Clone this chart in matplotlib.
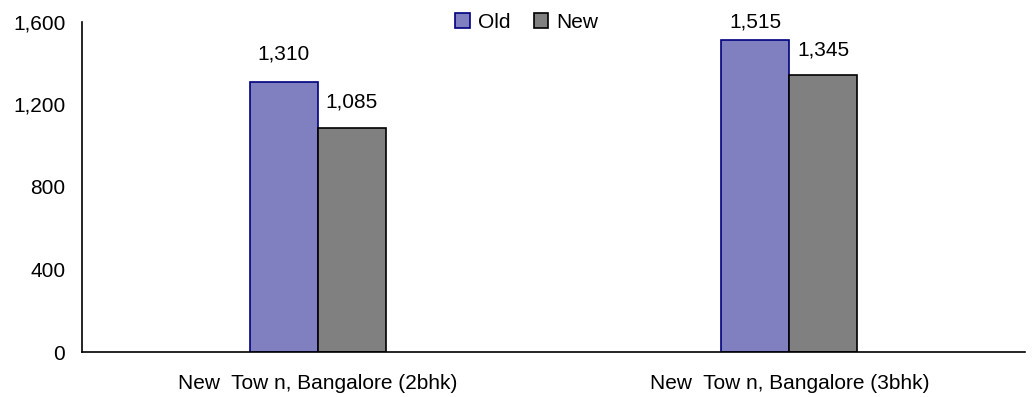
import matplotlib.pyplot as plt
import numpy as np

plt.rcParams['font.family'] = ['Liberation Sans', 'DejaVu Sans']

# data
categories = ['New  Tow n, Bangalore (2bhk)', 'New  Tow n, Bangalore (3bhk)']
series_names = ['Old', 'New']
old_vals = [1310, 1515]
new_vals = [1085, 1345]
y_ticks = [0, 400, 800, 1200, 1600]

fill_colors = ['#8080C0', '#808080']
edge_colors = ['#000080', '#000000']
label_offsets = [[28, 26], [18, 25]]  # px above bar top (old, new) per category

fs = 15

fig = plt.figure(figsize=(10.33, 3.97), dpi=100)
ax = fig.add_axes([82 / 1033, 1 - 352 / 397, (1025 - 82) / 1033, (352 - 22) / 397])

x = np.arange(len(categories))
w = 0.144
all_vals = [old_vals, new_vals]
for i, vals in enumerate(all_vals):
    pos = x + (i - 0.5) * w
    ax.bar(pos, vals, width=w, color=fill_colors[i], edgecolor=edge_colors[i],
           linewidth=1.2, label=series_names[i], zorder=2)
    for j, v in enumerate(vals):
        ax.annotate(f'{v:,}', (pos[j], v), xytext=(0, label_offsets[j][i] * 0.72),
                    textcoords='offset points', ha='center', va='center', fontsize=fs)

ax.set_xlim(-0.5, 1.5)
ax.set_ylim(0, 1600)
ax.set_xticks(x)
ax.set_xticklabels(categories, fontsize=fs)
ax.set_yticks(y_ticks)
ax.set_yticklabels([f'{t:,}' for t in y_ticks], fontsize=fs)
ax.tick_params(axis='x', length=0, pad=16)
ax.tick_params(axis='y', length=0, pad=12)
for s in ['top', 'right']:
    ax.spines[s].set_visible(False)
ax.spines['left'].set_linewidth(1.2)
ax.spines['bottom'].set_linewidth(1.2)

fig.legend(loc='center', bbox_to_anchor=(527 / 1033, 1 - 22 / 397), ncol=2,
           frameon=False, fontsize=fs, handlelength=0.7, handleheight=0.7,
           handletextpad=0.4, columnspacing=1.1, borderpad=0)

fig.savefig('out.png', dpi=100)
